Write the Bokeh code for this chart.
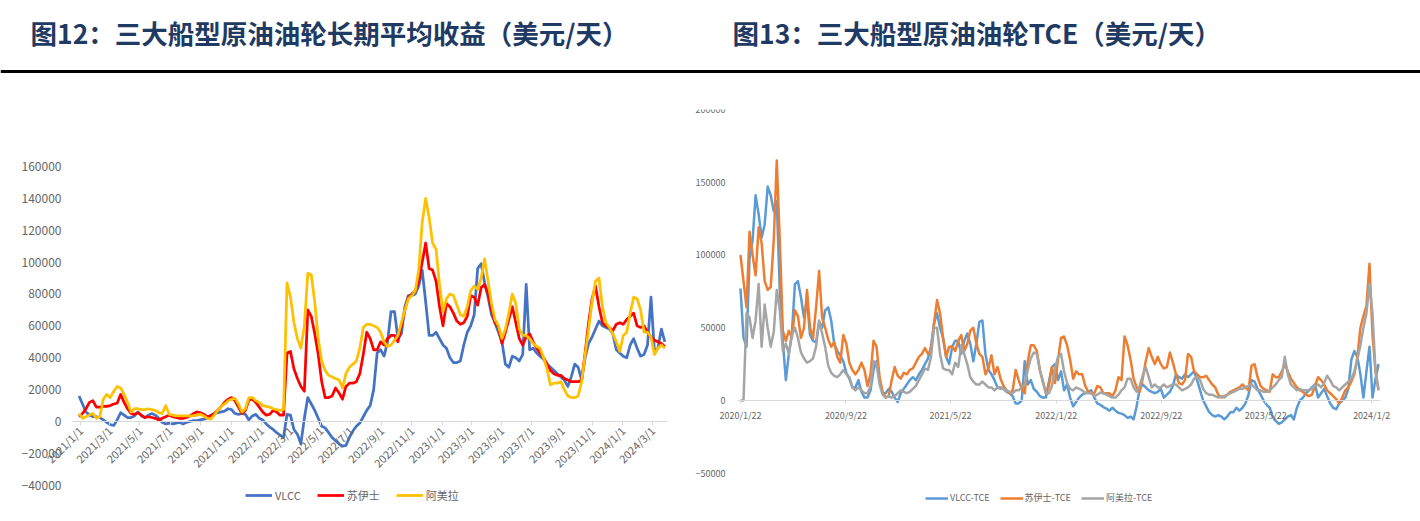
import math
import pandas as pd
from bokeh.plotting import figure
from bokeh.models import (Range1d, LinearAxis, FixedTicker, BasicTickFormatter, Legend,
                          LegendItem, Label, Span, ColumnDataSource)
from bokeh.layouts import column, row
from bokeh.embed import file_html
from bokeh.resources import INLINE

# ---------------- Chart 12 data (weekly, USD/day) ----------------
left_title = "图12：三大船型原油油轮长期平均收益（美元/天）"
left_start = "2020-12-29"
left_base = "2021-01-01"
left_tick_labels = ["2021/1/1", "2021/3/1", "2021/5/1", "2021/7/1", "2021/9/1", "2021/11/1",
                    "2022/1/1", "2022/3/1", "2022/5/1", "2022/7/1", "2022/9/1", "2022/11/1",
                    "2023/1/1", "2023/3/1", "2023/5/1", "2023/7/1", "2023/9/1", "2023/11/1",
                    "2024/1/1", "2024/3/1"]
left_y_ticks = [-40000, -20000, 0, 20000, 40000, 60000, 80000, 100000, 120000, 140000, 160000]
left_names = ["VLCC", "苏伊士", "阿美拉"]

vlcc = [16000, 11000, 6000, 4000, 3000, 3000, 2500, 1000, -500, -2000,
        -2500, 1000, 5500, 4000, 2500, 2500, 3500, 6000, 3500, 2500,
        4000, 5000, 4000, 2000, -500, -1500, -1000, -1500, -1000, -500,
        -1500, -500, 0, 500, 500, 1000, 1500, 2000, 4000, 5000,
        5500, 6000, 6500, 8000, 7500, 5000, 4500, 5000, 4500, 1000,
        3500, 4500, 2000, 1000, -1500, -3500, -5000, -7000, -8500, -10000,
        4500, 4000, -5000, -8000, -14000, 2000, 15000, 11000, 7000, 2000,
        -3000, -4000, -7000, -10000, -12000, -14000, -15500, -15000, -10000, -6000,
        -3000, -1000, 3000, 7000, 10000, 20000, 43000, 45000, 41000, 50000,
        69000, 69000, 52000, 55000, 72000, 79000, 79000, 80000, 85000, 95000,
        75000, 54000, 54000, 56000, 52000, 48000, 46000, 40000, 37000, 37000,
        38000, 48000, 56000, 60000, 67000, 96000, 99000, 87000, 78000, 67000,
        62000, 56000, 50000, 36000, 34000, 41000, 40000, 38000, 42000, 86000,
        45000, 46000, 43000, 41000, 39000, 36000, 34000, 32000, 30000, 28000,
        26000, 22000, 28000, 36000, 34000, 26000, 40000, 49000, 53000, 58000,
        63000, 60000, 59000, 58000, 55000, 45000, 43000, 41000, 40000, 48000,
        52000, 46000, 41000, 42000, 48000, 78000, 44000, 46000, 58000, 50000]

suez = [3000, 5000, 8000, 12000, 13000, 9000, 9000, 9500, 9500, 10000,
        11000, 11500, 17000, 12000, 8000, 5000, 4500, 5500, 4000, 2500,
        3000, 2500, 2000, 1000, 2000, 3000, 4000, 3000, 2500, 2000,
        2000, 2500, 3500, 5000, 6000, 5500, 4500, 3000, 3500, 5000,
        7000, 9500, 12000, 14000, 15000, 13000, 9000, 5000, 7000, 13500,
        14000, 12000, 9000, 6000, 4000, 4500, 7000, 6000, 4000, 4000,
        43000, 44000, 33000, 27000, 22000, 19000, 70000, 66000, 55000, 42000,
        25000, 15000, 15000, 16000, 21000, 18000, 14000, 22000, 24000, 24000,
        25000, 30000, 42000, 56000, 52000, 45000, 45000, 50000, 48000, 52000,
        54000, 54000, 50000, 60000, 70000, 78000, 80000, 82000, 88000, 100000,
        112000, 96000, 95000, 88000, 72000, 60000, 74000, 72000, 68000, 63000,
        61000, 62000, 66000, 79000, 78000, 73000, 84000, 86000, 80000, 70000,
        62000, 59000, 49000, 56000, 64000, 72000, 62000, 52000, 48000, 53000,
        55000, 50000, 46000, 43000, 40000, 36000, 32000, 30000, 29000, 29000,
        27000, 26000, 25000, 25000, 25000, 26000, 43000, 62000, 77000, 85000,
        72000, 62000, 60000, 59000, 57000, 61000, 62000, 61000, 64000, 66000,
        68000, 60000, 59000, 60000, 56000, 53000, 51000, 50000, 49000, 47000]

aframax = [5000, 2000, 3000, 4000, 5000, 2000, 3000, 14000, 17000, 15000,
           19000, 22000, 21000, 17000, 12000, 6000, 8000, 8000, 7500, 7500,
           8000, 7500, 7000, 5500, 5000, 10000, 4500, 4000, 3500, 3500,
           3500, 3500, 3500, 3500, 4000, 4500, 3500, 2000, 1500, 4000,
           7000, 9500, 11000, 13000, 14000, 14500, 11000, 6000, 8000, 15000,
           15000, 13000, 12000, 10000, 9500, 9000, 8000, 7500, 7000, 7500,
           87000, 78000, 62000, 52000, 46000, 60000, 93000, 92000, 75000, 52000,
           38000, 32000, 29000, 28000, 27000, 26000, 21000, 30000, 34000, 36000,
           38000, 46000, 59000, 61000, 61000, 60000, 59000, 56000, 50000, 47000,
           48000, 51000, 54000, 62000, 70000, 77000, 79000, 82000, 95000, 125000,
           140000, 128000, 112000, 108000, 86000, 69000, 77000, 80000, 79000, 73000,
           67000, 66000, 72000, 82000, 85000, 83000, 90000, 102000, 88000, 74000,
           64000, 60000, 52000, 58000, 68000, 80000, 74000, 58000, 54000, 54000,
           52000, 49000, 47000, 46000, 40000, 33000, 23000, 24000, 24000, 25000,
           20000, 16000, 15000, 15000, 16000, 25000, 42000, 58000, 75000, 88000,
           90000, 72000, 62000, 59000, 55000, 50000, 44000, 54000, 56000, 68000,
           78000, 77000, 70000, 56000, 56000, 53000, 42000, 46000, 48000, 46000]

# ---------------- Chart 13 data (weekly samples, USD/day) ----------------
right_title = "图13：三大船型原油油轮TCE（美元/天）"
right_start = "2020-01-22"
right_tick_dates = ["2020-01-22", "2020-09-22", "2021-05-22", "2022-01-22",
                    "2022-09-22", "2023-05-22", "2024-01-22"]
right_tick_labels = ["2020/1/22", "2020/9/22", "2021/5/22", "2022/1/22",
                     "2022/9/22", "2023/5/22", "2024/1/2"]
right_y_ticks = [-50000, 0, 50000, 100000, 150000, 200000]
right_names = ["VLCC-TCE", "苏伊士-TCE", "阿美拉-TCE"]

vlcc_tce = [77000, 43000, 37000, 98000, 110000, 141000, 128000, 112000, 121000, 147000,
            141000, 130000, 137000, 76000, 41000, 14000, 32000, 46000, 80000, 82000,
            71000, 57000, 69000, 45000, 41000, 40000, 54000, 50000, 62000, 64000,
            55000, 39000, 34000, 31000, 27000, 19000, 15000, 9000, 9000, 14000,
            6000, 2000, 2000, 7000, 21000, 27000, 14000, 5000, 5000, 8000,
            6000, 2000, -1000, 5000, 8000, 11000, 14000, 16000, 14000, 18000,
            21000, 25000, 29000, 37000, 53000, 60000, 50000, 43000, 30000, 25000,
            37000, 41000, 41000, 32000, 41000, 46000, 39000, 27000, 39000, 54000,
            55000, 32000, 21000, 18000, 14000, 9000, 9000, 8000, 6000, 5000,
            3000, -2000, -2000, 0, 27000, 11000, 14000, 8000, 6000, 3000,
            2000, 2000, 13000, 23000, 25000, 14000, 20000, 7000, 11000, 2000,
            -4000, -1000, 2000, 4000, 5000, 6000, 7000, 2000, -2000, -3000,
            -4500, -5500, -7000, -5000, -7000, -8500, -9000, -10000, -12000, -11000,
            -13000, -4000, 8000, 11000, 9000, 7000, 6000, 5000, 6000, 8000,
            2000, 4000, 6000, 10000, 18000, 16000, 15000, 18000, 16000, 18000,
            20000, 14000, 7000, 0, -4000, -8000, -10000, -11000, -10000, -11000,
            -13000, -11000, -8000, -8000, -5000, -7000, -5000, -2000, 4000, 14000,
            13000, 8000, 4000, 0, -3000, -5000, -11000, -14000, -16000, -15000,
            -13000, -11000, -10000, -13000, -5000, 0, 2000, 5000, 7000, 9000,
            11000, 2000, 5000, 8000, 3000, -2000, -5000, -6000, -2000, 0,
            2000, 8000, 28000, 34000, 30000, 18000, 2000, 20000, 37000, 2000,
            15000, 25000]

suez_tce = [100000, 82000, 64000, 116000, 100000, 86000, 119000, 108000, 82000, 76000,
            78000, 110000, 165000, 110000, 48000, 41000, 48000, 43000, 62000, 58000,
            43000, 50000, 76000, 50000, 43000, 64000, 89000, 57000, 50000, 42000,
            37000, 40000, 30000, 26000, 45000, 39000, 26000, 21000, 18000, 21000,
            26000, 21000, 10000, 18000, 41000, 37000, 16000, 6000, 2000, 3000,
            14000, 23000, 17000, 15000, 19000, 18000, 21000, 22000, 26000, 30000,
            32000, 36000, 32000, 34000, 53000, 69000, 60000, 43000, 30000, 37000,
            37000, 34000, 41000, 45000, 34000, 39000, 48000, 50000, 39000, 32000,
            30000, 18000, 22000, 31000, 18000, 23000, 15000, 10000, 7000, 5000,
            7000, 21000, 14000, 8000, 5000, 27000, 38000, 38000, 34000, 21000,
            13000, 5000, 10000, 23000, 12000, 28000, 43000, 44000, 38000, 28000,
            15000, 20000, 18000, 18000, 10000, 6000, 5000, 5000, 10000, 9000,
            5000, 5000, 5000, 3000, 7000, 16000, 14000, 44000, 38000, 28000,
            15000, 9000, 6000, 15000, 27000, 36000, 30000, 25000, 30000, 25000,
            22000, 23000, 33000, 26000, 18000, 12000, 11000, 14000, 32000, 30000,
            20000, 18000, 16000, 16000, 17000, 14000, 11000, 9000, 4000, 2000,
            3000, 4000, 6000, 7000, 8000, 9000, 11000, 9000, 7000, 24000,
            25000, 16000, 10000, 8000, 7000, 6000, 18000, 16000, 16000, 20000,
            25000, 20000, 15000, 12000, 9000, 7000, 6000, 4000, 3000, 4000,
            10000, 16000, 14000, 11000, 7000, 5000, 3000, 1000, -2000, 2000,
            7000, 9000, 13000, 18000, 30000, 50000, 58000, 65000, 94000, 45000,
            20000, 7000]

aframax_tce = [0, 0, 60000, 57000, 43000, 55000, 80000, 37000, 66000, 50000,
               37000, 47000, 76000, 62000, 34000, 39000, 32000, 45000, 50000, 43000,
               33000, 29000, 26000, 27000, 29000, 37000, 55000, 46000, 37000, 24000,
               19000, 17000, 16000, 18000, 21000, 18000, 16000, 9000, 7000, 9000,
               7000, 5000, 5000, 10000, 27000, 25000, 11000, 4000, 2000, 3000,
               2000, 3000, 5000, 7000, 6000, 5000, 6000, 8000, 10000, 14000,
               18000, 22000, 21000, 30000, 50000, 50000, 32000, 22000, 21000, 21000,
               18000, 26000, 23000, 38000, 32000, 25000, 16000, 13000, 11000, 11000,
               13000, 11000, 9000, 9000, 7000, 9000, 8000, 8000, 7000, 6000,
               5000, 7000, 7000, 9000, 11000, 21000, 29000, 33000, 32000, 21000,
               13000, 5000, 5000, 10000, 22000, 30000, 32000, 20000, 12000, 8000,
               7000, 9000, 8000, 7000, 5000, 5000, 5000, 3000, 4000, 5500,
               5000, 4000, 3000, 2000, 2000, 4000, 7000, 9000, 15000, 15000,
               9000, 6000, 10000, 17000, 23000, 16000, 9000, 11000, 9000, 9000,
               11000, 9000, 10000, 11000, 11000, 9000, 7000, 8000, 9000, 11000,
               15000, 16000, 14000, 8000, 5000, 4000, 4000, 3000, 2000, 3000,
               2000, 4000, 5000, 6000, 7000, 8000, 8000, 9000, 10000, 11000,
               9000, 7000, 7000, 6000, 6000, 7000, 9000, 11000, 14000, 16000,
               30000, 18000, 11000, 9000, 7000, 8000, 7000, 7000, 7000, 8000,
               10000, 11000, 9000, 12000, 17000, 14000, 10000, 9000, 7000, 9000,
               11000, 13000, 15000, 20000, 28000, 38000, 50000, 60000, 80000, 60000,
               20000, 7000]

# ---------------- styling ----------------
TITLE_COLOR = "#1f3b63"
TEXT_COLOR = "#666666"
AXIS_LINE = "#d9d9d9"
FONT = "Noto Sans CJK SC"
left_colors = ["#4472C4", "#FF0000", "#FFC000"]
right_colors = ["#5B9BD5", "#ED7D31", "#A5A5A5"]

# ---------------- header ----------------
ph = figure(width=1420, height=83, x_range=Range1d(0, 1420), y_range=Range1d(0, 83),
            output_backend="svg", toolbar_location=None, min_border=0,
            x_axis_location=None, y_axis_location=None, outline_line_color=None)
ph.grid.visible = False
for tx, t in ((30, left_title), (732, right_title)):
    ph.add_layout(Label(x=tx, y=51, x_units="screen", y_units="screen", text=t,
                        text_font=FONT, text_font_size="26.5px", text_font_style="bold",
                        text_color=TITLE_COLOR, text_baseline="middle"))
ph.add_layout(Span(location=12, dimension="width", line_color="black", line_width=3))


def y_axis(ticks, loc, size, standoff):
    return LinearAxis(fixed_location=loc, ticker=FixedTicker(ticks=ticks),
                      formatter=BasicTickFormatter(use_scientific=False),
                      axis_line_color=None, major_tick_line_color=None,
                      minor_tick_line_color=None, major_label_standoff=standoff,
                      major_label_text_font=FONT, major_label_text_font_size=size,
                      major_label_text_color=TEXT_COLOR)


# ---------------- left chart ----------------
lb = pd.Timestamp(left_base)
ldates = pd.date_range(left_start, periods=len(vlcc), freq="7D")
lsrc = ColumnDataSource(dict(x=[(d - lb).days for d in ldates], a=vlcc, b=suez, c=aframax))
lticks = [(pd.Timestamp(s.replace("/", "-")) - lb).days for s in left_tick_labels]

pl = figure(width=690, height=438, x_range=Range1d(-121.2, 1231.8),
            y_range=Range1d(-52706, 195764), output_backend="svg", toolbar_location=None,
            x_axis_location=None, y_axis_location=None, min_border_left=20,
            min_border_right=0, min_border_top=26, min_border_bottom=16,
            outline_line_color=None)
pl.grid.visible = False
pl.add_layout(y_axis(left_y_ticks, -16.2, "12px", 5), "left")
lx = LinearAxis(fixed_location=0, bounds=(-16.2, 1185.4), ticker=FixedTicker(ticks=lticks),
                major_label_overrides={t: s for t, s in zip(lticks, left_tick_labels)},
                axis_line_color=AXIS_LINE, major_tick_line_color=AXIS_LINE,
                major_tick_out=4, major_tick_in=0, minor_tick_line_color=None,
                major_label_orientation=math.pi / 4, major_label_standoff=3,
                major_label_text_font=FONT, major_label_text_font_size="11px",
                major_label_text_color=TEXT_COLOR)
pl.add_layout(lx, "below")
lr = []
for col, c in zip(["a", "b", "c"], left_colors):
    lr.append(pl.line("x", col, source=lsrc, line_color=c, line_width=2.75, line_join="round"))
pl.add_layout(Legend(items=[LegendItem(label=n, renderers=[r]) for n, r in zip(left_names, lr)],
                     location=(225, 2), orientation="horizontal", glyph_width=27,
                     glyph_height=12, label_height=12, label_standoff=3, spacing=16,
                     padding=0, margin=0, border_line_color=None, background_fill_alpha=0,
                     label_text_font=FONT, label_text_font_size="11px",
                     label_text_color=TEXT_COLOR))

# ---------------- right chart ----------------
rb = pd.Timestamp(right_start)
rdates = pd.date_range(right_start, periods=len(vlcc_tce), freq="7D")
rsrc = ColumnDataSource(dict(x=[(d - rb).days for d in rdates], a=vlcc_tce, b=suez_tce,
                             c=aframax_tce))
rticks = [(pd.Timestamp(s) - rb).days for s in right_tick_dates]

pr = figure(width=730, height=438, x_range=Range1d(-115.7, 1574.1),
            y_range=Range1d(-72165, 200000), output_backend="svg", toolbar_location=None,
            x_axis_location=None, y_axis_location=None, min_border_left=0,
            min_border_right=0, min_border_top=26, min_border_bottom=16,
            outline_line_color=None)
pr.grid.visible = False
pr.add_layout(y_axis(right_y_ticks, -7, "9px", 6), "left")
rx = LinearAxis(fixed_location=0, bounds=(-7, 1481.5), ticker=FixedTicker(ticks=rticks),
                major_label_overrides={t: s for t, s in zip(rticks, right_tick_labels)},
                axis_line_color=AXIS_LINE, major_tick_line_color=AXIS_LINE,
                major_tick_out=3, major_tick_in=0, minor_tick_line_color=None,
                major_label_standoff=6, major_label_text_font=FONT,
                major_label_text_font_size="9px", major_label_text_color=TEXT_COLOR)
pr.add_layout(rx, "below")
rr = []
for col, c in zip(["a", "b", "c"], right_colors):
    rr.append(pr.line("x", col, source=rsrc, line_color=c, line_width=2.5, line_join="round"))
pr.add_layout(Legend(items=[LegendItem(label=n, renderers=[r]) for n, r in zip(right_names, rr)],
                     location=(235, 1), orientation="horizontal", glyph_width=23,
                     glyph_height=10, label_height=10, label_standoff=2, spacing=10,
                     padding=0, margin=0, border_line_color=None, background_fill_alpha=0,
                     label_text_font=FONT, label_text_font_size="9px",
                     label_text_color=TEXT_COLOR))

page = column(ph, row(pl, pr))
open("out.html", "w").write(file_html(page, INLINE))
